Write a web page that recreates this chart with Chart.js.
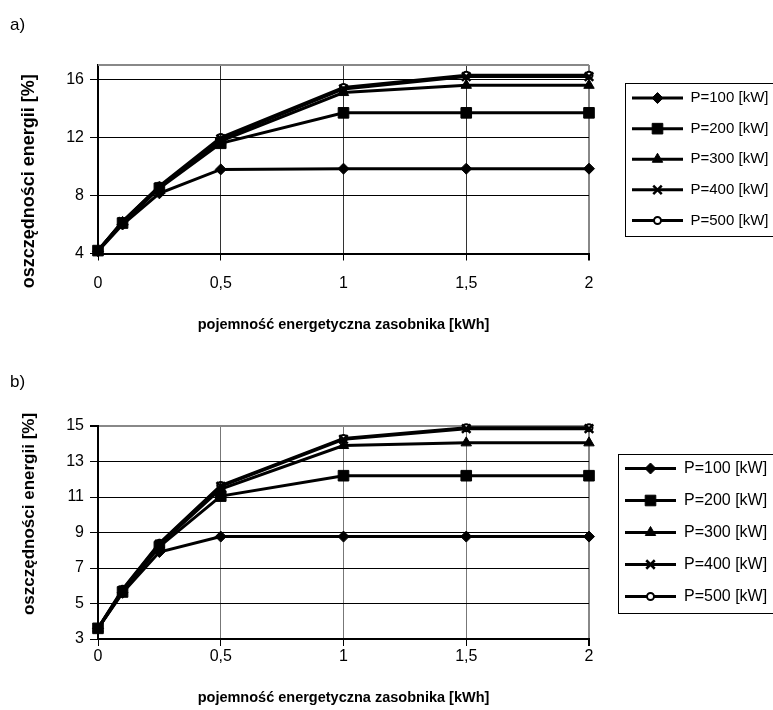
<!DOCTYPE html>
<html><head><meta charset="utf-8">
<script src="https://cdn.jsdelivr.net/npm/chart.js@4.4.1/dist/chart.umd.min.js"></script>
<style>
html,body{margin:0;padding:0;background:#fff;}
#wrap{position:relative;width:773px;height:710px;overflow:hidden;background:#fff;}
canvas{position:absolute;left:0;display:block;}
#ca{top:0;}
#cb{top:355px;}
</style></head><body>
<div id="wrap"><canvas id="ca" width="773" height="355"></canvas><canvas id="cb" width="773" height="355"></canvas></div>
<script>
// ---- data ----
const capacity = [0, 0.1, 0.25, 0.5, 1, 1.5, 2];
const seriesNames = ['P=100 [kW]', 'P=200 [kW]', 'P=300 [kW]', 'P=400 [kW]', 'P=500 [kW]'];
const panelLabels = ['a)', 'b)'];
const xTitle = 'pojemność energetyczna zasobnika [kWh]';
const yTitle = 'oszczędności energii [%]';
const xTicks = [0, 0.5, 1, 1.5, 2];
const yTicksA = [4, 8, 12, 16];
const yTicksB = [3, 5, 7, 9, 11, 13, 15];

const savingsA_P100 = [4.15, 6.0, 8.15, 9.8, 9.85, 9.85, 9.85];
const savingsA_P200 = [4.2, 6.1, 8.5, 11.6, 13.7, 13.7, 13.7];
const savingsA_P300 = [4.2, 6.15, 8.55, 11.75, 15.1, 15.6, 15.6];
const savingsA_P400 = [4.2, 6.2, 8.6, 11.9, 15.35, 16.2, 16.2];
const savingsA_P500 = [4.2, 6.2, 8.65, 12.0, 15.45, 16.3, 16.3];

const savingsB_P100 = [3.6, 5.6, 7.9, 8.77, 8.77, 8.77, 8.77];
const savingsB_P200 = [3.6, 5.65, 8.2, 11.05, 12.2, 12.2, 12.2];
const savingsB_P300 = [3.6, 5.7, 8.3, 11.45, 13.9, 14.05, 14.05];
const savingsB_P400 = [3.6, 5.75, 8.35, 11.6, 14.25, 14.85, 14.85];
const savingsB_P500 = [3.6, 5.8, 8.4, 11.65, 14.3, 14.9, 14.9];

const seriesA = [savingsA_P100, savingsA_P200, savingsA_P300, savingsA_P400, savingsA_P500];
const seriesB = [savingsB_P100, savingsB_P200, savingsB_P300, savingsB_P400, savingsB_P500];

// ---- styles ----
const FONT = "'Liberation Sans', Arial, sans-serif";
const markerStyles = [
  {pointStyle: 'rectRot', pointRadius: 5.5, pointBackgroundColor: '#000', pointBorderColor: '#000', pointBorderWidth: 1},
  {pointStyle: 'rect', pointRadius: 7.5, pointBackgroundColor: '#000', pointBorderColor: '#000', pointBorderWidth: 1},
  {pointStyle: 'triangle', pointRadius: 6, pointBackgroundColor: '#000', pointBorderColor: '#000', pointBorderWidth: 1},
  {pointStyle: 'crossRot', pointRadius: 6, pointBackgroundColor: '#000', pointBorderColor: '#000', pointBorderWidth: 2.5},
  {pointStyle: 'circle', pointRadius: 3.5, pointBackgroundColor: '#fff', pointBorderColor: '#000', pointBorderWidth: 2}
];

const panels = [
  {canvas: 'ca', label: panelLabels[0], series: seriesA, yMin: 4, yMax: 17, yTicks: yTicksA,
   lay: {titlePadTop: 14.8, titlePadBottom: 29.8, xHeight: 101.5, xTickPad: 13, xTitlePadBottom: 21.3,
         yTitleShift: 22, yTitleSize: 18, yTitlePad: 8.2, legendFont: 15, legendPad: 15.6,
         legendLineX: 632, legendFrameLeft: 625, vGrid: '#333', topBorder: true}},
  {canvas: 'cb', label: panelLabels[1], series: seriesB, yMin: 3, yMax: 15, yTicks: yTicksB,
   lay: {titlePadTop: 16.8, titlePadBottom: 33.8, xHeight: 71, xTickPad: 0.5, xTitlePadBottom: 3.3,
         yTitleShift: -18.5, yTitleSize: 17, yTitlePad: 8.8, legendFont: 16, legendPad: 16,
         legendLineX: 625, legendFrameLeft: 618, vGrid: '#777', topBorder: false}}
];

const W = 773;
const PLOT_LEFT = 98, PLOT_RIGHT = 589;

const decorPlugin = {
  id: 'decor',
  afterLayout(chart, args, opts) {
    const lg = chart.legend;
    if (!lg) return;
    const dx = opts.legendLineX - (lg.left + lg.options.labels.padding);
    lg.left += dx; lg.right += dx;
  },
  beforeDraw(chart, args, opts) {
    const ys = chart.scales.y;
    if (ys && !ys._shiftPatched) {
      const orig = ys.drawTitle.bind(ys);
      ys.drawTitle = function () {
        const c = this.ctx; c.save(); c.translate(0, opts.yTitleShift); orig(); c.restore();
      };
      ys._shiftPatched = true;
    }
  },
  afterDraw(chart, args, opts) {
    const ctx = chart.ctx;
    const ca = chart.chartArea;
    if (opts.topBorder) {
      ctx.save(); ctx.strokeStyle = '#888'; ctx.lineWidth = 2;
      ctx.beginPath(); ctx.moveTo(ca.left, ca.top); ctx.lineTo(ca.right, ca.top); ctx.stroke(); ctx.restore();
    }
    const lg = chart.legend;
    if (!lg || !lg.legendHitBoxes || !lg.legendHitBoxes.length) return;
    const hbs = lg.legendHitBoxes;
    const bw = lg.options.labels.boxWidth;
    const first = hbs[0], last = hbs[hbs.length - 1];
    const top = Math.round(first.top + first.height / 2 - 15) + 0.5;
    const bottom = Math.round(last.top + last.height / 2 + 16) + 0.5;
    const left = Math.round(opts.legendFrameLeft) + 0.5;
    ctx.save();
    ctx.strokeStyle = '#000'; ctx.lineWidth = 1;
    ctx.strokeRect(left, top, W + 10 - left, bottom - top);
    ctx.restore();
    hbs.forEach((hb, i) => {
      const ds = chart.data.datasets[i];
      const cx = hb.left + bw / 2, cy = hb.top + hb.height / 2;
      ctx.save();
      ctx.fillStyle = ds.pointBackgroundColor;
      ctx.strokeStyle = ds.pointBorderColor;
      ctx.lineWidth = ds.pointBorderWidth;
      Chart.helpers.drawPoint(ctx, {pointStyle: ds.pointStyle, radius: ds.pointRadius, rotation: 0, borderWidth: ds.pointBorderWidth}, cx, cy);
      ctx.restore();
    });
  }
};

const commaFmt = v => String(v).replace('.', ',');

panels.forEach(p => {
  const L = p.lay;
  const datasets = p.series.map((vals, i) => Object.assign({
    label: seriesNames[i],
    data: capacity.map((x, j) => ({x: x, y: vals[j]})),
    borderColor: '#000',
    backgroundColor: '#000',
    borderWidth: 3,
    tension: 0,
    clip: false
  }, markerStyles[i]));

  new Chart(document.getElementById(p.canvas), {
    type: 'line',
    data: {datasets},
    plugins: [decorPlugin],
    options: {
      responsive: false,
      animation: false,
      devicePixelRatio: 1,
      layout: {padding: {left: 10, right: 0, top: 0, bottom: 0}},
      plugins: {
        decor: {legendLineX: L.legendLineX, legendFrameLeft: L.legendFrameLeft, yTitleShift: L.yTitleShift, topBorder: L.topBorder},
        tooltip: {enabled: false},
        title: {
          display: true, text: p.label, align: 'start', color: '#000',
          font: {family: FONT, size: 17, weight: 'normal'},
          padding: {top: L.titlePadTop, bottom: L.titlePadBottom}
        },
        legend: {
          display: true, position: 'right', align: 'center', fullSize: false,
          labels: {
            color: '#000', boxWidth: 51, boxHeight: 3, padding: L.legendPad,
            font: {family: FONT, size: L.legendFont},
            generateLabels(chart) {
              const items = Chart.defaults.plugins.legend.labels.generateLabels(chart);
              items.forEach(it => { it.fillStyle = '#000'; it.strokeStyle = '#000'; it.lineWidth = 0; it.fontColor = '#000'; });
              return items;
            }
          }
        }
      },
      scales: {
        x: {
          type: 'linear', min: 0, max: 2,
          afterBuildTicks: s => { s.ticks = xTicks.map(v => ({value: v})); },
          afterFit: s => { s.height = L.xHeight; s.paddingRight = W - PLOT_RIGHT; s.paddingLeft = 0; },
          ticks: {callback: commaFmt, color: '#000', font: {family: FONT, size: 16}, padding: L.xTickPad, maxRotation: 0, autoSkip: false},
          grid: {
            color: c => (c.tick && c.tick.value === 2) ? '#888' : L.vGrid,
            lineWidth: c => (c.tick && c.tick.value === 2) ? 2 : 1,
            tickColor: '#000', tickLength: 7, drawTicks: true
          },
          border: {display: true, color: '#000', width: 2},
          title: {display: true, text: xTitle, color: '#000', font: {family: FONT, size: 14.5, weight: 'bold'}, padding: {top: 0, bottom: L.xTitlePadBottom}}
        },
        y: {
          type: 'linear', min: p.yMin, max: p.yMax,
          afterBuildTicks: s => { s.ticks = p.yTicks.map(v => ({value: v})); },
          afterFit: s => { s.width = PLOT_LEFT - 10; },
          ticks: {color: '#000', font: {family: FONT, size: 16}, padding: 6},
          grid: {
            color: c => (!L.topBorder && c.tick && c.tick.value === p.yMax) ? '#888' : '#000',
            lineWidth: c => (!L.topBorder && c.tick && c.tick.value === p.yMax) ? 2 : 1,
            tickColor: '#000', tickLength: 8, drawTicks: true
          },
          border: {display: true, color: '#000', width: 2},
          title: {display: true, text: yTitle, color: '#000', font: {family: FONT, size: L.yTitleSize, weight: 'bold'}, padding: {top: L.yTitlePad, bottom: 0}}
        }
      }
    }
  });
});
</script>
</body></html>
